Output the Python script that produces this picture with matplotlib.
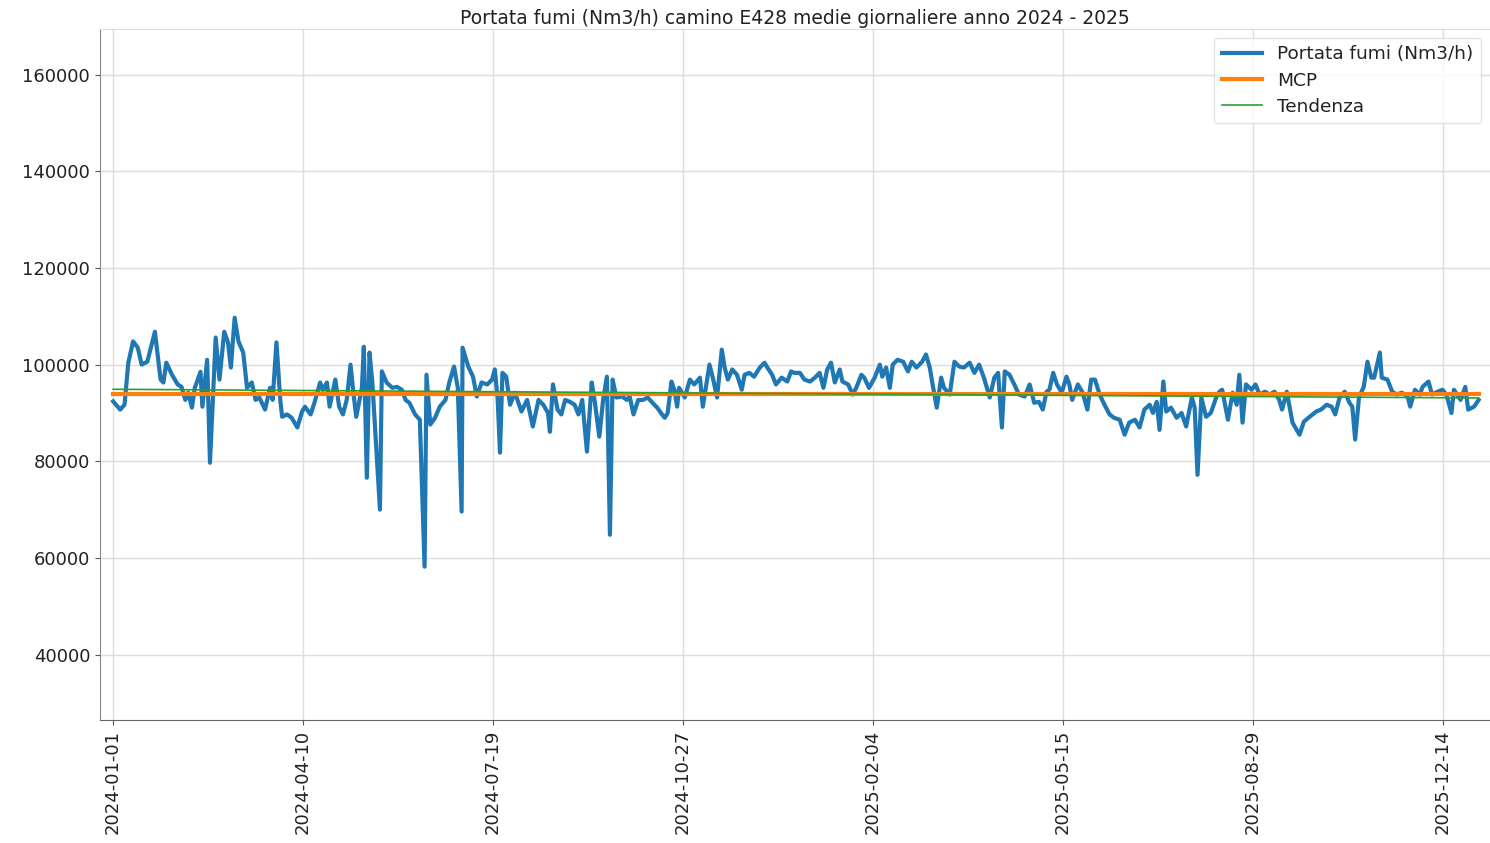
import numpy as np
import matplotlib.pyplot as plt

# --- dati (indice riga, portata Nm3/h) ---
giorno = [0, 3.7, 6, 8, 10.5, 13, 15, 18, 22, 25, 26.5, 28, 31, 34, 36, 38, 39.5, 41.5, 43, 46,
          47, 49.5, 51, 54, 56, 58.5, 60.5, 62, 64, 66, 68.5, 70.5, 73, 75, 77, 80, 82.6, 84,
          86, 88, 89, 91.5, 94, 97, 99.5, 101, 104, 106, 109, 110.5, 112.6, 114, 117, 119,
          121, 123, 125, 126.5, 128, 131, 132, 133.6, 135, 136.5, 140.5, 141.5, 144, 147, 149.5,
          152, 154, 156, 159, 161.5, 164, 165, 167, 169.5, 172, 175, 177, 179.5, 181.5, 183.5,
          184, 187, 189.5, 191.5, 194, 197, 199.5, 201, 202.5, 203.7, 205, 207, 209, 211.6, 215,
          218, 221, 224, 226.5, 229, 230, 231.6, 234, 236, 238, 240.5, 243, 245, 247, 249.5,
          252, 253.5, 256, 258, 260, 261.6, 263, 265, 268, 270.5, 272, 274, 276.5, 279, 281.5,
          284, 286.5, 289, 290.5, 292, 294, 295.5, 297, 298, 301, 303.7, 306, 309, 310.5, 312.5,
          314, 316, 318, 320.5, 322, 323.7, 326, 328.5, 331, 332.5, 335, 337.5, 340.5, 343, 344.5,
          347, 349, 352, 355, 357, 358.5, 361.6, 364, 367, 369.5, 372, 374, 376, 378, 380, 382.6,
          384, 387, 389.5, 391.5, 394, 395.5, 398, 401, 403.7, 405, 407, 409, 410.5, 413, 416,
          418.5, 420.5, 423, 426, 428, 430, 431.5, 433.7, 436, 437.5, 440.5, 443, 445.5, 448, 451,
          453.5, 456, 458.5, 461.6, 464, 466, 468, 469.5, 472, 474.5, 477, 480, 482.6, 485, 487.5,
          489.5, 491.5, 493, 495, 497, 499.5, 502, 503.5, 505, 508, 510.5, 513, 515, 517, 519.5,
          522, 524.7, 527, 530, 532.6, 535, 538, 540.5, 543, 545.8, 547.5, 549.5, 551, 553, 554.5,
          557, 560, 562.6, 565, 568, 569.5, 571, 573, 575.5, 578, 581, 582.5, 584, 587, 589.5,
          591.6, 593, 594.7, 596.5, 599.5, 601.5, 603.7, 606.5, 609, 611.5, 614, 615.5, 618, 621,
          624.7, 627, 630, 633.5, 636, 639, 641.6, 643.5, 645.8, 648.5, 651, 652.5, 654, 656,
          658.5, 660.5, 662.5, 664, 667, 668, 671, 673.5, 676, 678.5, 681.6, 683, 685.5, 688,
          689.5, 692.6, 694.5, 697.4, 700, 702, 704.7, 706, 709.5, 712, 713.5, 716.6, 719]
portata = [92400, 90700, 91700, 100400, 104800, 103500, 100000, 100600, 106800, 96900, 96300,
           100400, 97900, 95900, 95400, 92700, 94200, 91100, 95200, 98500, 91300, 101000, 79700,
           105600, 96900, 106800, 104600, 99400, 109700, 104800, 102500, 95200, 96300, 92700,
           93200, 90700, 95200, 92700, 104600, 92700, 89200, 89700, 89000, 87000, 90300, 91300,
           89700, 92100, 96300, 94800, 96300, 91300, 96900, 91300, 89700, 92700, 100000, 94200,
           89200, 95200, 103700, 76600, 102500, 96300, 70000, 98600, 96300, 95200, 95400, 94800,
           92700, 92100, 89700, 88600, 58200, 97900, 87600, 89000, 91300, 92700, 96300, 99600,
           95200, 69600, 103500, 99600, 97500, 93400, 96300, 95900, 96900, 99000, 92700, 81800,
           98300, 97500, 91700, 94200, 90300, 92700, 87200, 92700, 91700, 90000, 86100, 95900,
           90700, 89700, 92700, 92300, 91700, 89700, 92700, 82000, 96300, 92700, 85100, 92700,
           97500, 64800, 96900, 93200, 93400, 92700, 93400, 89700, 92700, 92700, 93200, 92100,
           91100, 89700, 89000, 90000, 96500, 94800, 91300, 95200, 93200, 96900, 95900, 97300,
           91300, 96300, 100000, 96900, 93200, 103100, 99400, 96900, 99000, 97900, 94800, 97900,
           98300, 97500, 99400, 100400, 99400, 97900, 95900, 97300, 96500, 98600, 98300, 98300,
           96900, 96500, 97300, 98300, 95200, 99000, 100400, 96300, 99000, 96500, 95900, 93800,
           95400, 97900, 97300, 95200, 97300, 100000, 97500, 99400, 95200, 100000, 101000, 100600,
           98600, 100600, 99400, 100600, 102100, 99400, 95900, 91100, 97300, 95200, 93800, 100600,
           99600, 99400, 100400, 98300, 100000, 97300, 93200, 97300, 98300, 87000, 98600, 97900,
           95900, 93800, 93400, 95900, 92100, 92300, 90700, 94400, 94800, 98300, 95900, 94200,
           97500, 95900, 92700, 95900, 94200, 90700, 96900, 96900, 93800, 91700, 89700, 89000,
           88600, 85500, 88000, 88600, 87000, 90700, 91700, 90000, 92300, 86500, 96500, 90300,
           91100, 89000, 90000, 87200, 93200, 91100, 77200, 93200, 89200, 90000, 93400, 94400,
           94800, 88600, 94200, 91700, 97900, 88000, 95900, 94800, 95900, 93800, 94400, 93800,
           94400, 92700, 90700, 94400, 88000, 85500, 88200, 89200, 90300, 90700, 91700, 91300,
           89700, 93200, 94400, 92100, 91300, 84500, 93200, 95400, 100600, 97300, 97300, 102500,
           97300, 96900, 94400, 93800, 94200, 93400, 91300, 94800, 93800, 95400, 96500, 93800,
           94400, 94800, 93800, 90000, 94800, 92700, 95400, 90700, 91300, 92700]

mcp = 94000
tendenza_inizio, tendenza_fine = 94900, 93100
n_righe = 720
etichette_x = ['2024-01-01', '2024-04-10', '2024-07-19', '2024-10-27',
               '2025-02-04', '2025-05-15', '2025-08-29', '2025-12-14']

plt.rcParams['font.family'] = 'DejaVu Sans'
fig = plt.figure(figsize=(14.9, 8.43), dpi=100)
ax = fig.add_axes([0.067, 0.146, 0.933, 0.82])

ax.plot(giorno, portata, color='#1f77b4', lw=3, label='Portata fumi (Nm3/h)')
ax.plot([0, n_righe - 1], [mcp, mcp], color='#ff7f0e', lw=3, label='MCP')
ax.plot([0, n_righe - 1], [tendenza_inizio, tendenza_fine], color='#2ca02c', lw=1.2,
        label='Tendenza')

ax.set_xlim(-7, 725)
ax.set_ylim(26500, 169500)
ax.set_xticks(np.arange(0, 800, 100))
ax.set_xticklabels(etichette_x, rotation=90)
ax.set_yticks(np.arange(40000, 170000, 20000))
ax.tick_params(labelsize=13, color='#555555', labelcolor='#222222')
ax.grid(True, color='#dddddd', lw=1)
ax.set_axisbelow(True)
ax.spines['right'].set_visible(False)
ax.spines['top'].set_color('#dddddd')
ax.spines['left'].set_color('#888888')
ax.spines['bottom'].set_color('#666666')

ax.set_title('Portata fumi (Nm3/h) camino E428 medie giornaliere anno 2024 - 2025',
             fontsize=13.5, pad=3, color='#222222')
leg = ax.legend(loc='upper right', fontsize=13.3, framealpha=0.8, edgecolor='#dddddd',
                handlelength=2.2, labelspacing=0.45)
for t in leg.get_texts():
    t.set_color('#222222')

fig.savefig('out.png', dpi=100)
